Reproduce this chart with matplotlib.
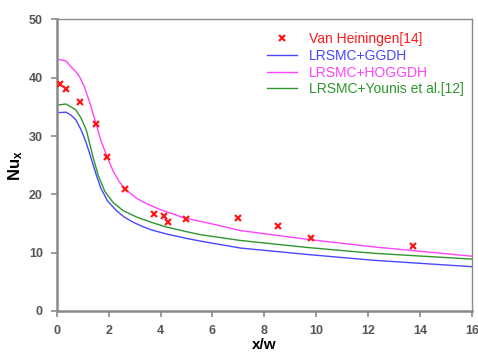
import matplotlib
matplotlib.use("Agg")
import matplotlib.pyplot as plt

plt.rcParams['font.family'] = ['Liberation Sans', 'DejaVu Sans']
plt.rcParams['mathtext.fontset'] = 'custom'
plt.rcParams['mathtext.rm'] = 'Liberation Sans'
plt.rcParams['mathtext.bf'] = 'Liberation Sans:bold'

# Experimental data
exp_x = [0.13, 0.37, 0.89, 1.5, 1.94, 2.63, 3.76, 4.13, 4.3, 4.97, 6.98, 8.52, 9.8, 13.72]
exp_y = [38.9, 38.0, 35.8, 32.1, 26.4, 20.9, 16.7, 16.3, 15.2, 15.7, 16.0, 14.5, 12.6, 11.2]

# LRSMC+GGDH
ggdh_x = [0.0, 0.35, 0.54, 0.73, 0.93, 1.12, 1.3, 1.5, 1.7, 1.95, 2.3, 2.6, 2.95, 3.3, 3.65,
          4.23, 5.0, 5.52, 7.07, 9.64, 12.2, 16.0]
ggdh_y = [34.0, 34.1, 33.6, 32.8, 31.1, 29.0, 26.5, 23.6, 21.0, 18.9, 17.2, 16.1, 15.2, 14.5, 13.9,
          13.2, 12.45, 12.0, 10.8, 9.7, 8.7, 7.6]

# LRSMC+HOGGDH
hoggdh_x = [0.0, 0.35, 0.54, 0.7, 0.86, 1.05, 1.25, 1.5, 1.7, 1.94, 2.17, 2.4, 2.63, 3.08,
            3.46, 3.98, 4.88, 6.17, 7.07, 9.64, 12.2, 16.0]
hoggdh_y = [43.2, 42.9, 41.9, 41.2, 40.3, 38.6, 36.0, 32.3, 29.2, 26.4, 24.0, 22.2, 20.9, 19.3,
            18.4, 17.4, 16.0, 14.75, 13.8, 12.3, 11.0, 9.4]

# LRSMC+Younis et al.
younis_x = [0.0, 0.35, 0.54, 0.73, 0.93, 1.05, 1.15, 1.27, 1.4, 1.6, 1.85, 2.17, 2.56, 3.08,
            3.72, 4.23, 5.0, 5.52, 7.07, 9.64, 12.2, 16.0]
younis_y = [35.3, 35.5, 35.0, 34.5, 33.1, 31.9, 30.8, 28.6, 26.3, 23.2, 20.5, 18.6, 17.2, 16.1,
            15.1, 14.4, 13.6, 13.1, 12.1, 10.9, 9.9, 8.9]

x_ticks = [0, 2, 4, 6, 8, 10, 12, 14, 16]
y_ticks = [0, 10, 20, 30, 40, 50]

fig = plt.figure(figsize=(4.78, 3.54), dpi=100)
ax = fig.add_axes([0.119, 0.1215, 0.868, 0.8235])

ax.plot(exp_x, exp_y, linestyle='none', marker='x', color='#ff1a1a',
        markersize=5, markeredgewidth=1.6, label='Van Heiningen[14]', zorder=5)
ax.plot(ggdh_x, ggdh_y, color='#4848ff', lw=1.0, label='LRSMC+GGDH')
ax.plot(hoggdh_x, hoggdh_y, color='#ff44ff', lw=1.0, label='LRSMC+HOGGDH')
ax.plot(younis_x, younis_y, color='#2e962e', lw=1.0, label='LRSMC+Younis et al.[12]')

ax.set_xlim(0, 16)
ax.set_ylim(0, 50)
ax.set_xticks(x_ticks)
ax.set_yticks(y_ticks)

for side in ['left', 'bottom']:
    ax.spines[side].set_color('#8a8a8a')
    ax.spines[side].set_linewidth(1.8)
for side in ['top', 'right']:
    ax.spines[side].set_color('#8a8a8a')
    ax.spines[side].set_linewidth(1.0)

ax.tick_params(direction='out', length=4, width=1.2, color='#8a8a8a',
               labelsize=9, labelcolor='#555555', pad=6)
for lab in ax.get_xticklabels() + ax.get_yticklabels():
    lab.set_fontweight('bold')

ax.set_xlabel('x/w', fontsize=11, fontweight='bold', labelpad=1)
ax.set_ylabel(r'$\mathbf{Nu_x}$', fontsize=12, labelpad=0)
ax.yaxis.set_label_coords(-0.077, 0.5)

leg = ax.legend(loc='upper right', frameon=False, fontsize=10,
                handlelength=2.2, handletextpad=0.8, labelspacing=0.2,
                bbox_to_anchor=(1.01, 1.0))
for text, line in zip(leg.get_texts(), leg.get_lines()):
    text.set_color(line.get_color() if line.get_linestyle() != 'None'
                   else line.get_markeredgecolor())

fig.savefig('out.png', dpi=100)
